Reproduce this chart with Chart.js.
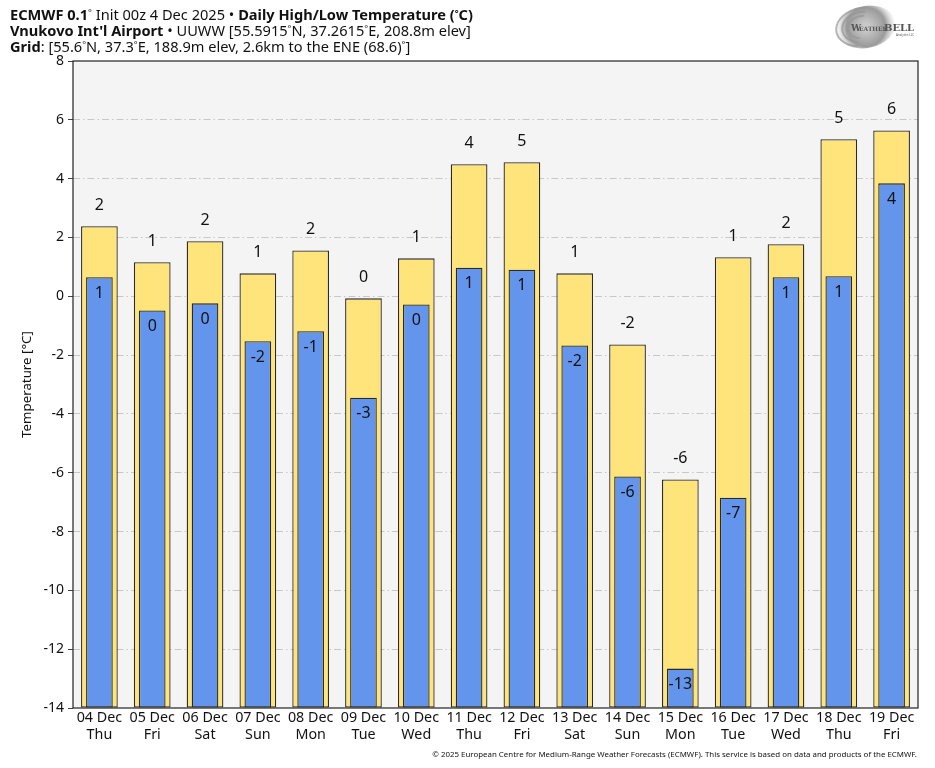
<!DOCTYPE html>
<html>
<head>
<meta charset="utf-8">
<script src="https://cdn.jsdelivr.net/npm/chart.js@4.4.1/dist/chart.umd.min.js"></script>
<style>
  html, body { margin: 0; padding: 0; background: #fff; }
  #wrap { position: relative; width: 935px; height: 768px; font-family: "Noto Sans", sans-serif; color: #111; }
  #chart { position: absolute; left: 0; top: 0; }
  .hdr { position: absolute; left: 10px; font-size: 14.6px; line-height: 16px; white-space: nowrap; }
  .hdr b { font-weight: 700; }
  .hdr sup { font-size: 9px; vertical-align: 4px; line-height: 0; }
  #foot { position: absolute; right: 18px; top: 749px; font-size: 7.9px; white-space: nowrap; color: #111; }
</style>
</head>
<body>
<div id="wrap">
  <canvas id="chart" width="935" height="768"></canvas>
  <div class="hdr" style="top:6px"><b>ECMWF 0.1</b><sup>&deg;</sup> Init 00z 4 Dec 2025 &bull; <b>Daily High/Low Temperature (<sup>&deg;</sup>C)</b></div>
  <div class="hdr" style="top:22px"><b>Vnukovo Int'l Airport</b> &bull; UUWW [55.5915<sup>&deg;</sup>N, 37.2615<sup>&deg;</sup>E, 208.8m elev]</div>
  <div class="hdr" style="top:38px"><b>Grid</b>: [55.6<sup>&deg;</sup>N, 37.3<sup>&deg;</sup>E, 188.9m elev, 2.6km to the ENE (68.6)<sup>&deg;</sup>]</div>
  <div id="foot">&copy; 2025 European Centre for Medium-Range Weather Forecasts (ECMWF). This service is based on data and products of the ECMWF.</div>
</div>
<script>
// ── Data ──
const days = ["04 Dec", "05 Dec", "06 Dec", "07 Dec", "08 Dec", "09 Dec", "10 Dec", "11 Dec",
              "12 Dec", "13 Dec", "14 Dec", "15 Dec", "16 Dec", "17 Dec", "18 Dec", "19 Dec"];
const weekdays = ["Thu", "Fri", "Sat", "Sun", "Mon", "Tue", "Wed", "Thu",
                  "Fri", "Sat", "Sun", "Mon", "Tue", "Wed", "Thu", "Fri"];
const highs = [2.38, 1.16, 1.87, 0.78, 1.56, -0.07, 1.29, 4.49, 4.56, 0.78, -1.64, -6.23, 1.33, 1.77, 5.34, 5.64];
const lows = [0.65, -0.48, -0.24, -1.53, -1.19, -3.45, -0.28, 0.97, 0.90, -1.67, -6.13, -12.66, -6.85, 0.65, 0.68, 3.84];
const yMin = -14, yMax = 8, yStep = 2;

const FONT = "'Noto Sans', sans-serif";

function fmt(v) {
    var r = Math.round(v);
    return String(r === 0 ? 0 : r);
}

// ── Plugins ──
const plotBg = {
    id: "plotBg",
    beforeDraw(chart) {
        const a = chart.chartArea, ctx = chart.ctx;
        ctx.save();
        ctx.fillStyle = "#f4f4f4";
        ctx.fillRect(a.left, a.top, a.right - a.left, a.bottom - a.top);
        ctx.restore();
    }
};

const valueLabels = {
    id: "valueLabels",
    afterDatasetsDraw(chart) {
        const ctx = chart.ctx;
        ctx.save();
        ctx.font = "16px " + FONT;
        ctx.fillStyle = "#111";
        ctx.textAlign = "center";
        ctx.textBaseline = "middle";
        chart.data.datasets.forEach(function (ds, i) {
            const meta = chart.getDatasetMeta(i);
            meta.data.forEach(function (bar, j) {
                const v = ds.data[j];
                if (ds.label === "High") ctx.fillText(fmt(v), bar.x, bar.y - 21);
                else ctx.fillText(fmt(v), bar.x, bar.y + 16);
            });
        });
        ctx.restore();
    }
};

const frame = {
    id: "frame",
    afterDraw(chart) {
        const a = chart.chartArea, ctx = chart.ctx;
        ctx.save();
        ctx.strokeStyle = "#222";
        ctx.lineWidth = 1.2;
        ctx.strokeRect(a.left, a.top, a.right - a.left, a.bottom - a.top);

        // WeatherBELL logo
        const cx = 866, cy = 27;
        const g = ctx.createRadialGradient(cx, cy, 4, cx, cy, 30);
        g.addColorStop(0, "#c8c8c8");
        g.addColorStop(0.6, "#9a9a9a");
        g.addColorStop(1, "rgba(200,200,200,0)");
        ctx.fillStyle = g;
        ctx.beginPath();
        ctx.ellipse(cx, cy, 30, 21, -0.2, 0, Math.PI * 2);
        ctx.fill();
        ctx.strokeStyle = "rgba(150,150,150,0.7)";
        ctx.lineWidth = 2;
        for (var k = 0; k < 3; k++) {
            ctx.beginPath();
            ctx.ellipse(cx - 4, cy, 26 - k * 6, 19 - k * 4, -0.2, Math.PI * 0.6, Math.PI * 1.6);
            ctx.stroke();
        }
        ctx.fillStyle = "#555";
        ctx.font = "bold 9px 'DejaVu Serif', serif";
        ctx.textAlign = "left";
        ctx.textBaseline = "alphabetic";
        ctx.fillText("W", 851, 31);
        ctx.font = "bold 6px 'DejaVu Serif', serif";
        ctx.fillText("EATHER", 859, 31);
        ctx.font = "bold 10px 'DejaVu Serif', serif";
        ctx.fillText("BELL", 884, 31);
        ctx.font = "3px " + FONT;
        ctx.fillText("Analytics LLC", 896, 36);
        ctx.restore();
    }
};

// ── Chart ──
new Chart(document.getElementById("chart"), {
    type: "bar",
    data: {
        labels: days.map(function (d, i) { return [d, weekdays[i]]; }),
        datasets: [
            {
                label: "Low",
                data: lows,
                base: yMin,
                backgroundColor: "#6495ed",
                borderColor: "#2a2a2a",
                borderWidth: 1.3,
                borderSkipped: false,
                barPercentage: 0.505,
                categoryPercentage: 1,
                grouped: false,
                order: 0
            },
            {
                label: "High",
                data: highs,
                base: yMin,
                backgroundColor: "#ffe47b",
                borderColor: "#2a2a2a",
                borderWidth: 1.3,
                borderSkipped: false,
                barPercentage: 0.695,
                categoryPercentage: 1,
                grouped: false,
                order: 1
            }
        ]
    },
    options: {
        responsive: false,
        animation: false,
        layout: { padding: { left: 0, right: 17, top: 61, bottom: 0 } },
        plugins: {
            legend: { display: false },
            tooltip: { enabled: false },
            title: { display: false }
        },
        scales: {
            x: {
                grid: { display: false, drawTicks: false, tickLength: 0 },
                border: { display: false },
                ticks: {
                    color: "#111",
                    font: { family: FONT, size: 14.3 },
                    padding: 1,
                    maxRotation: 0,
                    autoSkip: false
                },
                afterFit: function (s) { s.height = 60; }
            },
            y: {
                min: yMin,
                max: yMax,
                border: { display: false, dash: [7, 3, 1.5, 3] },
                grid: {
                    color: function (c) {
                        return (c.tick && (c.tick.value === yMin || c.tick.value === yMax)) ? "rgba(0,0,0,0)" : "#c8c8c8";
                    },
                    lineWidth: 1,
                    tickColor: "#444",
                    tickLength: 5,
                    tickBorderDash: []
                },
                ticks: {
                    stepSize: yStep,
                    color: "#111",
                    font: { family: FONT, size: 14 },
                    padding: 4
                },
                title: {
                    display: true,
                    text: "Temperature [°C]",
                    color: "#111",
                    font: { family: FONT, size: 13.3 },
                    padding: { top: 19, bottom: 0 }
                },
                afterFit: function (s) { s.width = 73; }
            }
        }
    },
    plugins: [plotBg, valueLabels, frame]
});
</script>
</body>
</html>
